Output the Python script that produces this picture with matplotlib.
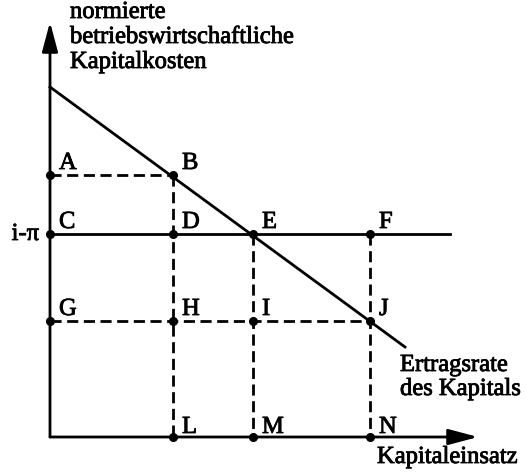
import matplotlib.pyplot as plt
import matplotlib.patheffects as pe

# Werte relativ zum Ursprung (Pixel-Einheiten des Originals, y nach oben)
cap_x = [123, 203, 320]          # L, M, N auf der Kapitaleinsatz-Achse
cost_levels = [262, 203, 116]    # Niveau A-B, i-pi, G-J
rate_x = [0, 355]                # Ertragsrate des Kapitals
rate_y = [350, 90]

row_labels = [["A", "B"], ["C", "D", "E", "F"], ["G", "H", "I", "J"]]
row_xs = [[0, cap_x[0]], [0] + cap_x, [0] + cap_x]
bottom_labels = ["L", "M", "N"]

plt.rcParams['font.family'] = ['Liberation Serif', 'DejaVu Serif']
plt.rcParams['path.effects'] = []
FS = 17.7
LW = 2.0
DASH = (0, (4.0, 2.0))
bold = [pe.withStroke(linewidth=0.6, foreground='k')]

fig = plt.figure(figsize=(5.26, 4.76), dpi=100)
ax = fig.add_axes([0, 0, 1, 1])
ax.set_xlim(-50, 476)
ax.set_ylim(-39, 437)
ax.axis('off')

# Achsen mit Pfeilen
arrow = dict(arrowstyle='-|>,head_length=0.9,head_width=0.24', mutation_scale=20,
             lw=LW, color='k', shrinkA=0, shrinkB=0)
ax.annotate("", xy=(0, 415), xytext=(0, 0), arrowprops=arrow)
ax.annotate("", xy=(428, 0), xytext=(0, 0), arrowprops=arrow)

# i-pi Linie
ax.plot([0, 400], [cost_levels[1], cost_levels[1]], color='k', lw=LW)
# Ertragsrate
ax.plot(rate_x, rate_y, color='k', lw=LW)

# gestrichelte Hilfslinien
ax.plot([0, cap_x[0]], [cost_levels[0]] * 2, color='k', lw=LW, linestyle=DASH)
ax.plot([0, cap_x[2]], [cost_levels[2]] * 2, color='k', lw=LW, linestyle=DASH)
ax.plot([cap_x[0]] * 2, [cost_levels[0], 0], color='k', lw=LW, linestyle=DASH)
ax.plot([cap_x[1]] * 2, [cost_levels[1], 0], color='k', lw=LW, linestyle=DASH)
ax.plot([cap_x[2]] * 2, [cost_levels[1], 0], color='k', lw=LW, linestyle=DASH)

# Punkte und Beschriftungen
for labels, xs, y in zip(row_labels, row_xs, cost_levels):
    for lab, x in zip(labels, xs):
        ax.plot(x, y, 'o', color='k', ms=5.5)
        ax.text(x + 9, y + 6, lab, fontsize=FS, ha='left', va='baseline', path_effects=bold)
for lab, x in zip(bottom_labels, cap_x):
    ax.plot(x, 0, 'o', color='k', ms=5.5)
    ax.text(x + 9, 4, lab, fontsize=FS, ha='left', va='baseline', path_effects=bold)

ax.text(-11, cost_levels[1], "i-π", fontsize=FS, ha='right', va='center', path_effects=bold)

# Achsentitel
for txt, yb in zip(["normierte", "betriebswirtschaftliche", "Kapitalkosten"], [419, 394, 369]):
    ax.text(20, yb, txt, fontsize=FS, ha='left', va='baseline', path_effects=bold)
ax.text(327, -26, "Kapitaleinsatz", fontsize=FS, ha='left', va='baseline', path_effects=bold)
ax.text(350, 66, "Ertragsrate", fontsize=FS, ha='left', va='baseline', path_effects=bold)
ax.text(350, 42, "des Kapitals", fontsize=FS, ha='left', va='baseline', path_effects=bold)

fig.savefig("out.png", dpi=100)
